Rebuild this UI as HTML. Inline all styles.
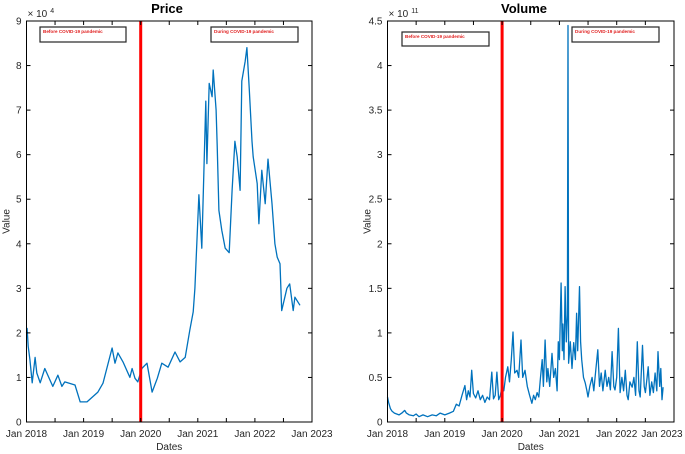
<!DOCTYPE html>
<html><head><meta charset="utf-8"><style>
body{margin:0;background:#fff;}
svg{display:block;font-family:"Liberation Sans",sans-serif;}
</style></head><body>
<svg id="c" width="685" height="454" viewBox="0 0 685 454"></svg>
<script>
const priceDates=[2018.0,2018.01,2018.03,2018.06,2018.10,2018.15,2018.18,2018.24,2018.32,2018.46,2018.55,2018.62,2018.67,2018.85,2018.94,2019.06,2019.25,2019.34,2019.50,2019.55,2019.60,2019.69,2019.81,2019.85,2019.90,2019.95,2020.02,2020.11,2020.20,2020.29,2020.37,2020.48,2020.60,2020.69,2020.78,2020.86,2020.92,2020.95,2021.02,2021.07,2021.14,2021.16,2021.20,2021.25,2021.27,2021.32,2021.34,2021.37,2021.42,2021.48,2021.55,2021.60,2021.65,2021.69,2021.74,2021.77,2021.83,2021.86,2021.90,2021.95,2021.97,2022.04,2022.07,2022.12,2022.18,2022.23,2022.30,2022.35,2022.39,2022.44,2022.47,2022.56,2022.61,2022.67,2022.70,2022.79];
const priceValues=[2.0,2.1,1.7,1.4,0.88,1.45,1.1,0.88,1.2,0.8,1.05,0.8,0.9,0.83,0.45,0.45,0.67,0.87,1.66,1.32,1.55,1.35,1.0,1.2,0.98,0.9,1.2,1.32,0.67,0.98,1.32,1.23,1.57,1.35,1.45,2.06,2.47,3.0,5.1,3.9,7.2,5.8,7.6,7.3,7.9,7.0,6.2,4.75,4.3,3.9,3.8,5.2,6.3,5.95,5.2,7.65,8.1,8.4,7.5,6.3,5.95,5.35,4.45,5.65,4.9,5.9,4.9,4.0,3.7,3.55,2.5,3.0,3.1,2.5,2.8,2.62];
const volDates=[2018.00,2018.02,2018.05,2018.08,2018.12,2018.16,2018.2,2018.25,2018.3,2018.33,2018.38,2018.45,2018.5,2018.55,2018.62,2018.7,2018.78,2018.85,2018.92,2019.0,2019.08,2019.15,2019.2,2019.25,2019.3,2019.35,2019.38,2019.41,2019.44,2019.47,2019.5,2019.54,2019.58,2019.62,2019.66,2019.7,2019.74,2019.78,2019.82,2019.85,2019.88,2019.91,2019.94,2019.97,2020.0,2020.03,2020.06,2020.1,2020.13,2020.16,2020.19,2020.22,2020.26,2020.29,2020.33,2020.36,2020.4,2020.44,2020.48,2020.52,2020.55,2020.58,2020.61,2020.64,2020.67,2020.7,2020.72,2020.75,2020.78,2020.8,2020.83,2020.87,2020.9,2020.93,2020.96,2020.98,2021.0,2021.03,2021.05,2021.06,2021.08,2021.1,2021.12,2021.14,2021.15,2021.16,2021.19,2021.22,2021.25,2021.28,2021.3,2021.32,2021.35,2021.37,2021.39,2021.42,2021.45,2021.48,2021.5,2021.53,2021.57,2021.6,2021.63,2021.67,2021.7,2021.73,2021.76,2021.8,2021.83,2021.86,2021.89,2021.92,2021.95,2021.97,2022.0,2022.03,2022.06,2022.09,2022.12,2022.15,2022.18,2022.2,2022.23,2022.27,2022.3,2022.33,2022.36,2022.39,2022.41,2022.45,2022.48,2022.5,2022.53,2022.55,2022.58,2022.61,2022.64,2022.67,2022.7,2022.72,2022.75,2022.77,2022.79,2022.81];
const volValues=[0.28,0.22,0.15,0.12,0.1,0.09,0.08,0.1,0.13,0.1,0.08,0.07,0.09,0.06,0.08,0.06,0.08,0.07,0.1,0.08,0.1,0.12,0.2,0.18,0.3,0.41,0.25,0.35,0.28,0.58,0.32,0.27,0.35,0.25,0.3,0.22,0.28,0.25,0.56,0.26,0.3,0.56,0.25,0.3,0.4,0.35,0.5,0.62,0.45,0.7,1.01,0.55,0.58,0.5,0.92,0.5,0.58,0.4,0.3,0.21,0.3,0.25,0.33,0.28,0.5,0.7,0.4,0.92,0.45,0.6,0.4,0.77,0.5,0.6,0.35,0.9,0.7,1.56,0.8,1.1,0.7,1.52,0.9,1.2,4.45,0.66,0.9,0.6,0.89,0.7,1.22,0.8,1.52,0.9,0.7,0.5,0.44,0.35,0.28,0.4,0.5,0.35,0.55,0.81,0.4,0.55,0.35,0.58,0.4,0.5,0.36,0.79,0.4,0.36,0.5,1.05,0.33,0.5,0.35,0.58,0.3,0.25,0.45,0.39,0.5,0.3,0.9,0.35,0.28,0.86,0.4,0.33,0.5,0.62,0.3,0.45,0.33,0.55,0.35,0.79,0.4,0.6,0.25,0.39];
const xTickLabels=["Jan 2018","Jan 2019","Jan 2020","Jan 2021","Jan 2022","Jan 2023"];
const priceTicks=["0","1","2","3","4","5","6","7","8","9"];
const volTicks=["0","0.5","1","1.5","2","2.5","3","3.5","4","4.5"];

const svg=document.getElementById('c');
const NS='http://www.w3.org/2000/svg';
function mk(tag,attrs,parent){const e=document.createElementNS(NS,tag);for(const k in attrs)e.setAttribute(k,attrs[k]);(parent||svg).appendChild(e);return e;}

function panel(cfg){
  const {x0,x1,y0,y1,ymax,dates,values,ticks,title,exp,name,tcx,boxes}=cfg;
  const g=mk('g',{});
  
  
  const xs=d=>x0+(d-2018)/5*(x1-x0);
  const ys=v=>y1-v/ymax*(y1-y0);
  let dstr='';
  dates.forEach((d,i)=>{dstr+=(i?'L':'M')+xs(d).toFixed(1)+' '+ys(values[i]).toFixed(1);});
  const line=mk('path',{d:dstr,fill:'none',stroke:'#0072bd','stroke-width':1.3,'stroke-linejoin':'round'},g);
  
  
  const rl=mk('line',{x1:xs(2020),x2:xs(2020),y1:y0,y2:y1,stroke:'#ff0000','stroke-width':3},g);
  
  
  const ax=mk('rect',{x:x0,y:y0,width:x1-x0,height:y1-y0,fill:'none',stroke:'#000','stroke-width':1},g);
  
  
  for(let k=0;k<=10;k++){
    const x=xs(2018+k/2);
    mk('line',{x1:x,x2:x,y1:y1,y2:y1-4,stroke:'#000'},g);
    mk('line',{x1:x,x2:x,y1:y0,y2:y0+4,stroke:'#000'},g);
  }
  xTickLabels.forEach((t,i)=>{
    let cx=xs(2018+i);
    if(cx+22>684) cx=684-22;
    const tx=mk('text',{x:cx,y:y1+15,'font-size':10,'text-anchor':'middle',fill:'#262626'},g);
    tx.textContent=t;
    
    
  });
  ticks.forEach((t,i)=>{
    const v=ymax*i/(ticks.length-1);const y=ys(v);
    mk('line',{x1:x0,x2:x0+4,y1:y,y2:y,stroke:'#000'},g);
    mk('line',{x1:x1,x2:x1-4,y1:y,y2:y,stroke:'#000'},g);
    const tx=mk('text',{x:x0-5,y:y+3.5,'font-size':10,'text-anchor':'end',fill:'#262626'},g);
    tx.textContent=t;
    
    
  });
  const ex=mk('text',{x:x0+1,y:y0-4,'font-size':10,fill:'#262626'},g);
  ex.innerHTML='× 10<tspan dy="-4" dx="3" font-size="7">'+exp+'</tspan>';
  
  
  const ti=mk('text',{x:tcx,y:13,'font-size':13,'font-weight':'bold','text-anchor':'middle',fill:'#000'},g);
  ti.textContent=title;
  
  
  const xl=mk('text',{x:(x0+x1)/2,y:450,'font-size':10,'text-anchor':'middle',fill:'#262626'},g);
  xl.textContent='Dates';
  
  
  const yl=mk('text',{x:0,y:0,'font-size':10,'text-anchor':'middle',fill:'#262626',transform:'translate('+(x0-17)+','+((y0+y1)/2)+') rotate(-90)'},g);
  yl.textContent='Value';
  
  
  boxes.forEach(b=>{
    const bg=mk('g',{},g);
    
    
    mk('rect',{x:b[0],y:b[1],width:b[2],height:b[3],fill:'#fff',stroke:'#262626','stroke-width':1.2},bg);
    const t=mk('text',{x:b[0]+3,y:b[1]+6,'font-size':4.6,'font-weight':'bold',fill:'#e02020'},bg);
    t.textContent=b[4];
  });
}
panel({x0:26.5,x1:312,y0:21,y1:422,ymax:9,dates:priceDates,values:priceValues,ticks:priceTicks,title:'Price',exp:'4',name:'price',tcx:167,
  boxes:[[40,27,86,15,'Before COVID-19 pandemic'],[211,27,87,15,'During COVID-19 pandemic']]});
panel({x0:387.5,x1:674,y0:21,y1:422,ymax:4.5,dates:volDates,values:volValues,ticks:volTicks,title:'Volume',exp:'11',name:'volume',tcx:524,
  boxes:[[402,32,87,14,'Before COVID-19 pandemic'],[572,27,87,15,'During COVID-19 pandemic']]});
</script>
</body></html>
